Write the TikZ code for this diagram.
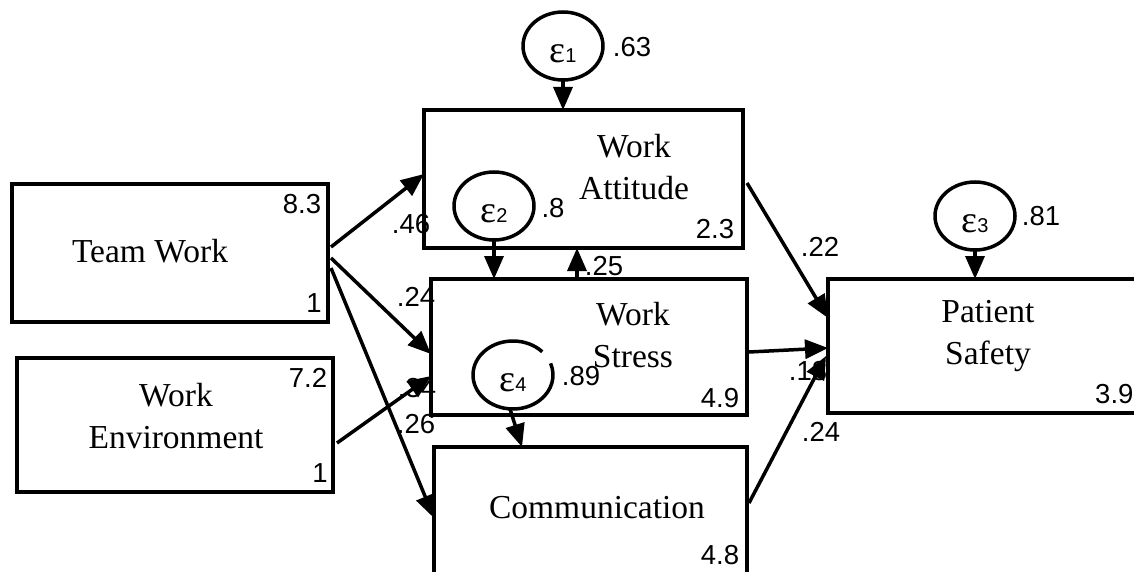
\documentclass[tikz,border=0pt]{standalone}
\usepackage{fontspec}
\setmainfont{Liberation Serif}
\newfontfamily\numfont{Liberation Sans}
\usetikzlibrary{arrows.meta,shapes.geometric,calc}

\begin{document}
\begin{tikzpicture}[x=1pt,y=-1pt,
  box/.style={draw,line width=3.5pt,inner sep=0pt,outer sep=0pt,anchor=north west,fill=white},
  err/.style={ellipse,inner sep=0pt,outer sep=0pt,minimum width=80pt,minimum height=68pt,line width=3.5pt},
  lbl/.style={font=\fontsize{33.5}{42}\selectfont,align=center,inner sep=0pt},
  num/.style={font=\numfont\fontsize{27.5}{27.5}\selectfont,inner sep=0pt,anchor=base},
  eps/.style={inner sep=0pt,anchor=base,font=\fontsize{38}{38}\selectfont},
  conn/.style={line width=3.5pt,-{Triangle[length=23pt,width=19pt]}},
]
\useasboundingbox (0,0) rectangle (1134,572);
\clip (0,0) rectangle (1134,572);

% coefficient partly hidden behind the outcome box
\node[num] (c18) at (808,380) {.18};

% observed variables
\node[box,minimum width=316pt,minimum height=138pt] (tw) at (12,184) {};
\node[box,minimum width=316pt,minimum height=134pt] (we) at (17,358) {};
\node[box,minimum width=319pt,minimum height=138pt] (wa) at (424,110) {};
\node[box,minimum width=316pt,minimum height=136pt] (ws) at (431,279) {};
\node[box,minimum width=313pt,minimum height=140pt] (cm) at (434,447) {};
\node[box,minimum width=320pt,minimum height=134pt] (ps) at (828,279) {};

\node[lbl] (twt) at (150,251) {Team Work};
\node[lbl] (wet) at (176,416) {Work\\Environment};
\node[lbl] (wat) at (634,167) {Work\\Attitude};
\node[lbl] (wst) at (633,335) {Work\\Stress};
\node[lbl] (cmt) at (597,508) {Communication};
\node[lbl] (pst) at (988,336) {Patient\\Safety};

% intercepts and variances
\node[num] (v1) at (302,213) {8.3};
\node[num] (v2) at (314,312) {1};
\node[num] (v3) at (308,387) {7.2};
\node[num] (v4) at (320,482) {1};
\node[num] (v5) at (715,238) {2.3};
\node[num] (v6) at (720,407) {4.9};
\node[num] (v7) at (720,564) {4.8};
\node[num,anchor=base west] (v8) at (1095,403) {3.9};

% error terms
\node[err,draw] (e1) at (563,46) {};
\node[err,draw] (e2) at (494,206) {};
\node[err,draw] (e3) at (975,216) {};
\node[err] (e4) at (513,375) {};
\draw[line width=3.5pt] ([shift={(43:40pt and 34pt)}]e4.center)
  arc[start angle=43, end angle=380, x radius=40pt, y radius=34pt];

\node[eps] (t1) at ($(e1.center)+(0,17)$) {ε{\numfont\fontsize{20}{20}\selectfont 1}};
\node[eps] (t2) at ($(e2.center)+(0,16)$) {ε{\numfont\fontsize{20}{20}\selectfont 2}};
\node[eps] (t3) at ($(e3.center)+(0,16)$) {ε{\numfont\fontsize{20}{20}\selectfont 3}};
\node[eps] (t4) at ($(e4.center)+(0,16)$) {ε{\numfont\fontsize{20}{20}\selectfont 4}};

\node[num] (r1) at (632,57) {.63};
\node[num] (r2) at (553,217) {.8};
\node[num] (r3) at (1041,225) {.81};
\node[num] (r4) at (581,385) {.89};

% path coefficients
\node[num] (c46) at (411,233) {.46};
\node[num] (c24) at (416,306) {.24};
\node[num] (c34) at (417,397) {.34};
\node[num] (c26) at (416,433) {.26};
\node[num] (c25) at (604,275) {.25};
\node[num] (c22) at (820,256) {.22};
\node[num] (c24b) at (821,441) {.24};

% paths
\draw[conn] (e1.south) -- (e1.south |- wa.north);
\draw[conn] (e2.south) -- (e2.south |- ws.north);
\draw[conn] (e3.south) -- (e3.south |- ps.north);
\draw[conn] ($(e4.south)+(-3,0)$) -- ($(cm.north west)+(88,0)$);
\draw[conn] ($(ws.north west)+(146,0)$) -- ($(wa.south west)+(153,0)$);
\draw[conn] ($(tw.north east)+(3,63)$) -- ($(wa.north west)+(0,64)$);
\draw[conn] ($(tw.north east)+(3,74)$) -- ($(ws.north west)+(0,75)$);
\draw[conn] ($(tw.north east)+(3,84)$) -- ($(cm.north west)+(0,71)$);
\draw[conn] ($(we.north east)+(4,85)$) -- ($(ws.north west)+(0,97)$);
\draw[conn] ($(wa.north east)+(4,73)$) -- ($(ps.north west)+(0,39)$);
\draw[conn] ($(ws.north east)+(2,73)$) -- ($(ps.north west)+(0,69)$);
\draw[conn] ($(cm.north east)+(2,56)$) -- ($(ps.north west)+(-2,77)$);
\end{tikzpicture}
\end{document}
